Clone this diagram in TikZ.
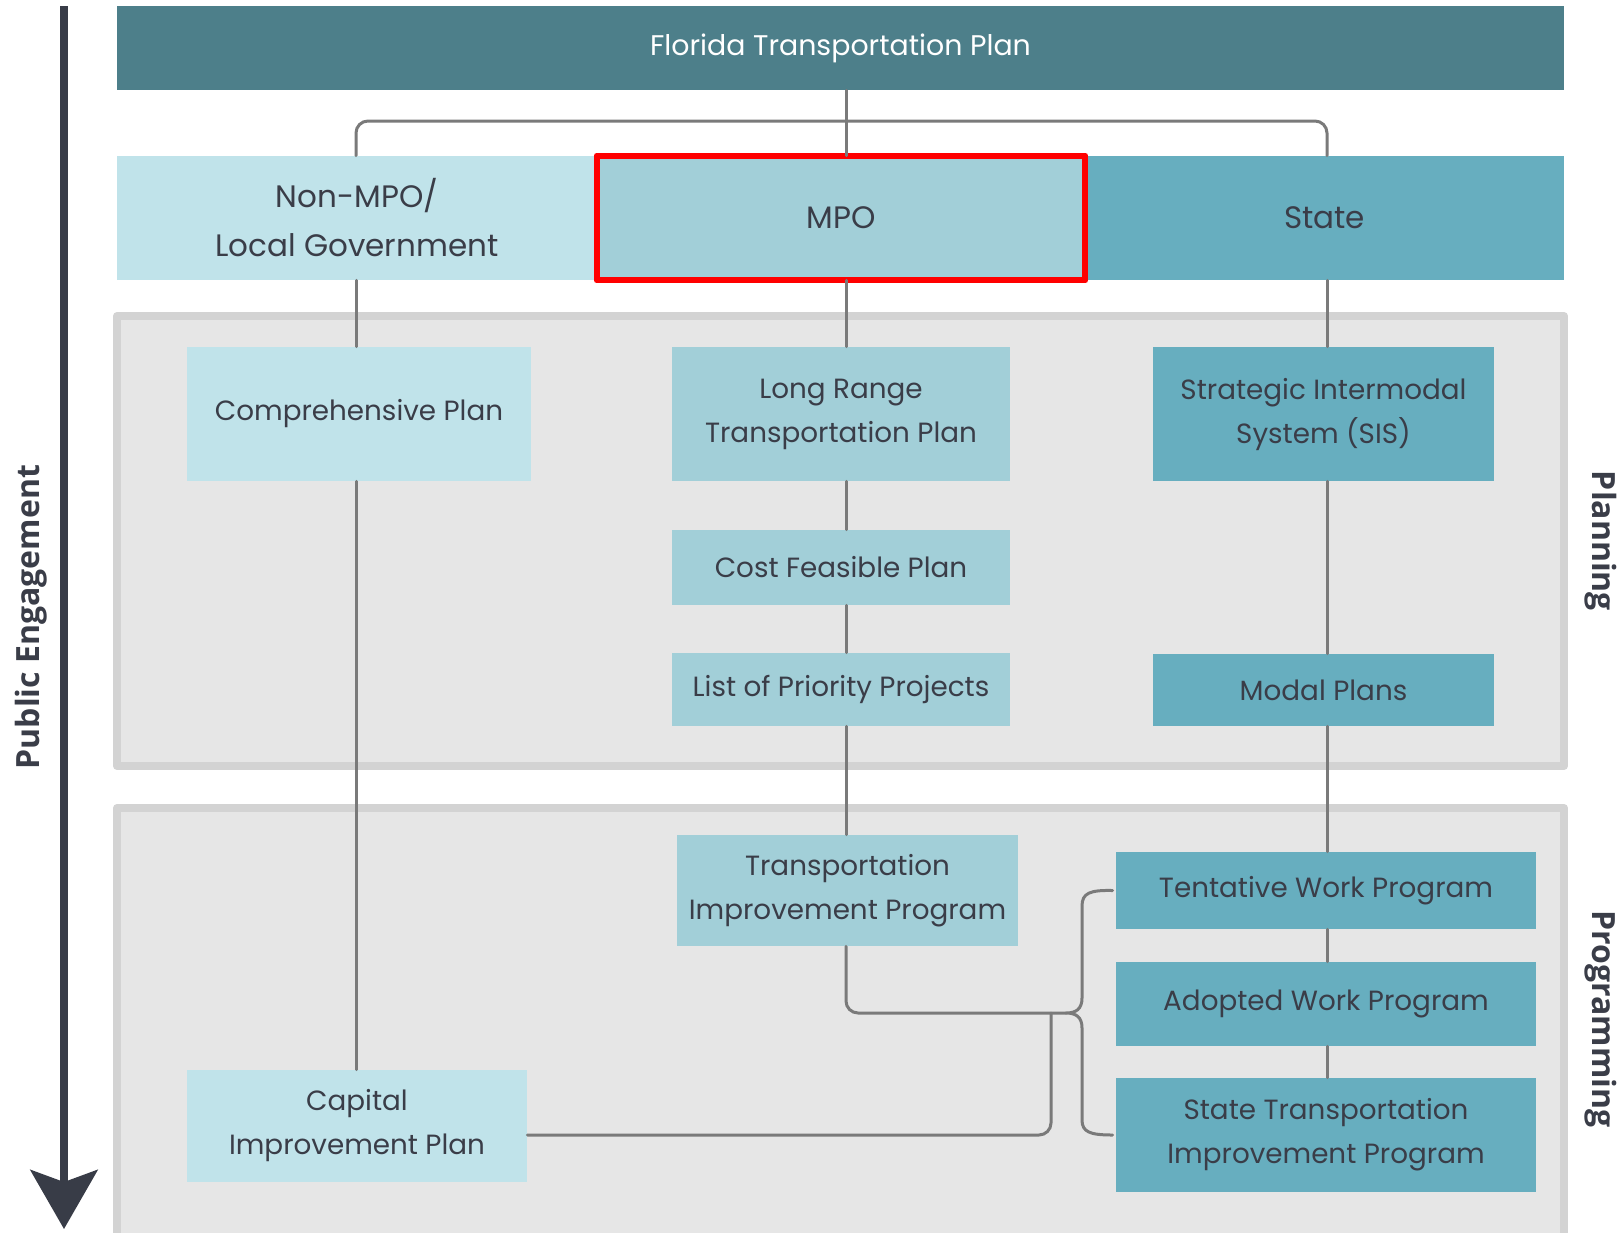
\documentclass[tikz,border=0pt]{standalone}
\usepackage{fontspec}
\setmainfont{Poppins}
\newfontfamily\sidefont{Open Sans}
\usetikzlibrary{arrows.meta}
\definecolor{barteal}{HTML}{4D7F8A}
\definecolor{tealpale}{HTML}{C0E3EA}
\definecolor{tealmid}{HTML}{A2CFD8}
\definecolor{tealdeep}{HTML}{67AEBF}
\definecolor{panelfill}{HTML}{E6E6E6}
\definecolor{panelrim}{HTML}{D3D3D3}
\definecolor{linkgray}{HTML}{7A7A7A}
\definecolor{shaftgray}{HTML}{383C47}
\definecolor{inkgray}{HTML}{3A3D48}
\begin{document}
\begin{tikzpicture}[x=0.5pt, y=-0.5pt, line join=round, line cap=round,
  box/.style={inner sep=0pt, align=center, text=inkgray, font=\fontsize{13.9}{22}\selectfont},
  bigbox/.style={box, font=\fontsize{15.5}{24.5}\selectfont, minimum height=62pt},
  link/.style={draw=linkgray, line width=1.5pt},
  side/.style={text=inkgray, font=\sidefont\bfseries\fontsize{16}{18}\selectfont}]
  \useasboundingbox (0,0) rectangle (1620,1232);
  % panels
  \filldraw[fill=panelfill, draw=panelrim, line width=4pt] (117,316) rectangle (1564,766);
  \filldraw[fill=panelfill, draw=panelrim, line width=4pt] (117,808) rectangle (1564,1250);
  % columns
  \coordinate (L) at (356,0);
  \coordinate (M) at (846,0);
  \coordinate (R) at (1327,0);
  % top rows
  \node[box, fill=barteal, text=white, font=\fontsize{14.2}{20}\selectfont, minimum width=723.5pt, minimum height=42pt] (fdot) at (840.5,48) {Florida Transportation Plan};
  \node[bigbox, fill=tealpale, minimum width=240pt] (nonmpo) at (357,218) {Non-MPO/\\Local Government};
  \node[bigbox, fill=tealmid, minimum width=244pt] (mpo) at (841,218) {MPO};
  \node[bigbox, fill=tealdeep, minimum width=239.5pt] (state) at (1324.5,218) {State};
  \draw[red, line width=3pt] (mpo.north west) rectangle (mpo.south east);
  % planning
  \node[box, fill=tealpale, minimum width=172pt, minimum height=67pt] (comp) at (359,414) {Comprehensive Plan};
  \node[box, fill=tealmid, minimum width=169pt, minimum height=67pt] (lrtp) at (841,414) {Long Range\\Transportation Plan};
  \node[box, fill=tealdeep, minimum width=170.5pt, minimum height=67pt] (sis) at (1323.5,414) {Strategic Intermodal\\System (SIS)};
  \node[box, fill=tealmid, minimum width=169pt, minimum height=37.5pt] (cfp) at (841,567.5) {Cost Feasible Plan};
  \node[box, fill=tealmid, minimum width=169pt, minimum height=36.5pt] (lopp) at (841,689.5) {List of Priority Projects};
  \node[box, fill=tealdeep, minimum width=170.5pt, minimum height=36pt] (modal) at (1323.5,690) {Modal Plans};
  % programming
  \node[box, fill=tealmid, minimum width=170.5pt, minimum height=55.5pt] (tip) at (847.5,890.5) {Transportation\\Improvement Program};
  \node[box, fill=tealdeep, minimum width=210pt, minimum height=38.5pt] (twp) at (1326,890.5) {Tentative Work Program};
  \node[box, fill=tealdeep, minimum width=210pt, minimum height=42pt] (awp) at (1326,1004) {Adopted Work Program};
  \node[box, fill=tealdeep, minimum width=210pt, minimum height=57pt] (stip) at (1326,1135) {State Transportation\\Improvement Program};
  \node[box, fill=tealpale, minimum width=170pt, minimum height=56pt] (cip) at (357,1126) {Capital\\Improvement Plan};
  % connectors
  \coordinate (K) at (846,121);
  \coordinate (bt) at (1066,1013);
  \coordinate (J) at (1051,1013);
  \draw[link] (fdot.south -| M) -- (mpo.north -| M);
  \draw[link, rounded corners=6pt] (nonmpo.north -| L) |- (K) -| (state.north -| R);
  \foreach \a/\b in {nonmpo/comp, comp/cip}
    \draw[link] (\a.south -| L) -- (\b.north -| L);
  \foreach \a/\b in {mpo/lrtp, lrtp/cfp, cfp/lopp, lopp/tip}
    \draw[link] (\a.south -| M) -- (\b.north -| M);
  \foreach \a/\b in {state/sis, sis/modal, modal/twp, twp/awp, awp/stip}
    \draw[link] (\a.south -| R) -- (\b.north -| R);
  \draw[link, rounded corners=6pt] (tip.south -| M) |- (bt);
  \draw[link, rounded corners=6pt] ([yshift=-4.5pt]cip.east) -| (J);
  \draw[link] ([xshift=-1.5pt]twp.west) .. controls (1090,890) and (1082,893) .. (1082,906)
    -- (1082,998) .. controls (1082,1009) and (1076,1013) .. (bt)
    .. controls (1076,1013) and (1082,1017) .. (1082,1028)
    -- (1082,1120) .. controls (1082,1132) and (1090,1135) .. ([xshift=-1.5pt]stip.west);
  % side labels
  \draw[shaftgray, line width=4pt, line cap=butt, -{Stealth[length=29.5pt, width=33.5pt, inset=6pt]}] (64,6) -- (64,1229);
  \node[side, rotate=90] (pe) at (31,617) {Public Engagement};
  \node[side, rotate=-90] (pl) at (1601,541) {Planning};
  \node[side, rotate=-90] (pg) at (1601,1019) {Programming};
\end{tikzpicture}
\end{document}
